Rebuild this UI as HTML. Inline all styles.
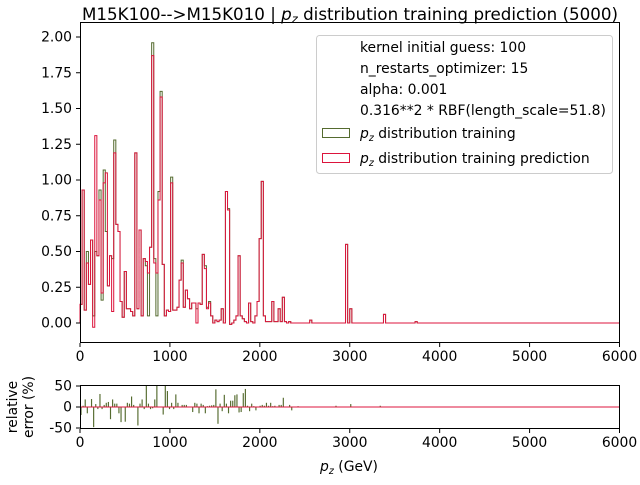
<!DOCTYPE html>
<html><head><meta charset="utf-8"><style>
body{margin:0;background:#fff;}
svg text{font-family:"DejaVu Sans","Liberation Sans",sans-serif;fill:#000;}
</style></head><body>
<svg id="chart" width="640" height="480" xmlns="http://www.w3.org/2000/svg">
<rect width="640" height="480" fill="#fff"/>
<text x="350" y="20" font-size="16.7" text-anchor="middle">M15K100--&gt;M15K010 | <tspan font-style="italic">p</tspan><tspan font-style="italic" font-size="11.5" dy="3">z</tspan><tspan dy="-3"> distribution training prediction (5000)</tspan></text>
<g id="main"></g>
<g id="resid"></g>
<g id="legend">
<rect x="316.5" y="35.5" width="296" height="138" rx="3" fill="#fff" fill-opacity="0.8" stroke="#ccc"/>
<text x="360" y="52" font-size="13.9">kernel initial guess: 100</text>
<text x="360" y="73" font-size="13.9">n_restarts_optimizer: 15</text>
<text x="360" y="94" font-size="13.9">alpha: 0.001</text>
<text x="360" y="115" font-size="13.9">0.316**2 * RBF(length_scale=51.8)</text>
<rect x="322.5" y="128.5" width="27" height="9" fill="none" stroke="#556b2f"/>
<text x="360" y="138" font-size="13.9"><tspan font-style="italic">p</tspan><tspan font-style="italic" font-size="9.5" dy="3">z</tspan><tspan dy="-3"> distribution training</tspan></text>
<rect x="322.5" y="153.5" width="27" height="9" fill="none" stroke="#dc143c"/>
<text x="360" y="163" font-size="13.9"><tspan font-style="italic">p</tspan><tspan font-style="italic" font-size="9.5" dy="3">z</tspan><tspan dy="-3"> distribution training prediction</tspan></text>
</g>
</svg>
<script>
const binWidth = 23.4375;
const trainVals = [0.13,0.93,0.09,0.50,0.27,0.58,0.05,0.50,0.47,0.93,0.16,1.07,0.64,0.26,0.47,0.45,1.28,0.69,0.64,0.15,0.04,0.36,0.10,0.10,0.08,0.05,1.19,0.10,0.65,0.05,0.45,0.40,0.05,0.53,1.96,0.45,0.05,0.92,1.62,0.41,0.05,0.09,0.08,1.02,0.09,0.09,0.11,0.30,0.44,0.11,0.23,0.17,0.10,0.14,0.14,0.10,0.14,0.13,0.48,0.40,0.11,0.15,0.05,0.00,0.02,0.01,0.02,0.10,0.00,0.92,0.80,-0.01,0.00,0.02,0.05,0.47,0.05,0.03,0.01,0.00,0.14,0.01,0.00,0.05,0.15,0.59,0.99,0.05,0.01,0.01,0.01,0.15,0.01,0.01,0.10,0.01,0.18,0.01,0.00,0.01,0,0,0,0,0,0,0,0,0,0.02,0,0,0,0,0,0,0,0,0,0,0,0,0,0,0,0,0.55,0,0.10,0,0,0,0,0,0,0,0,0,0,0,0,0,0,0,0.06,0,0,0,0,0,0,0,0,0,0,0,0,0,0,0.01,0];
const predVals = [0.13,0.93,0.09,0.42,0.27,0.58,-0.03,1.31,0.47,0.86,0.21,0.98,1.05,0.26,0.47,0.08,1.19,0.69,0.64,0.15,0.04,0.36,0.10,0.10,0.08,0.05,1.19,0.10,0.65,0.05,0.45,0.43,0.35,0.53,1.87,0.42,0.35,0.86,1.58,0.41,0.05,0.09,0.08,0.98,0.09,0.09,0.11,0.30,0.42,0.11,0.23,0.17,0.10,0.14,0.14,0.00,0.14,0.13,0.48,0.38,0.10,0.14,0.05,0.00,0.02,0.01,0.02,0.10,0.00,0.92,0.79,-0.01,0.00,0.02,0.05,0.47,0.05,0.03,0.01,0.00,0.14,0.01,0.00,0.05,0.15,0.59,0.99,0.05,0.01,0.01,0.01,0.15,0.01,0.01,0.10,0.01,0.18,0.01,0.00,0.01,0,0,0,0,0,0,0,0,0,0.02,0,0,0,0,0,0,0,0,0,0,0,0,0,0,0,0,0.55,0,0.10,0,0,0,0,0,0,0,0,0,0,0,0,0,0,0,0.06,0,0,0,0,0,0,0,0,0,0,0,0,0,0,0.01,0];
const residBins = [0,1,2,3,5,6,7,8,9,10,11,12,13,14,15,16,17,18,19,21,22,23,24,25,27,28,29,30,31,32,33,34,35,36,39,40,41,42,43,44,45,46,48,49,50,53,54,55,56,57,58,59,60,61,62,63,64,65,66,67,68,69,70,71,72,73,74,75,76,77,78,79,80,81,82,83,85,86,87,88,89,90,91,92,94,95,96,99,100,103,121,128,142];
const residVals = [-19,3,18,-15,19,-48,7,-5,31,-5,5,10,12,-29,18,8,8,-15,-36,-35,10,8,25,5,-44,8,18,-5,55,8,-5,-3,18,55,-18,55,38,-5,10,-5,30,10,5,5,5,-12,10,8,-15,8,5,-15,2,3,4,5,42,-40,8,-10,29,8,-15,15,15,28,30,-13,-12,33,43,3,-10,8,2,-8,3,5,3,10,3,10,2,3,5,5,22,5,-8,2,3,7,3];
const xTicks = [0,1000,2000,3000,4000,5000,6000];
const yTicks = [0,0.25,0.5,0.75,1.0,1.25,1.5,1.75,2.0];
const yTickLabels = ["0.00","0.25","0.50","0.75","1.00","1.25","1.50","1.75","2.00"];
const rTicks = [-50,0,50];

const NS="http://www.w3.org/2000/svg";
const X0=80,X1=619.5;
const xs = v => X0 + (v/6000)*(X1-X0);
const ys = v => 323 - v*143;
const rs = v => 407 - v*0.42;
function mk(parent,tag,attrs){const e=document.createElementNS(NS,tag);for(const k in attrs)e.setAttribute(k,attrs[k]);parent.appendChild(e);return e;}
const main=document.getElementById('main'), resid=document.getElementById('resid');

function stepPath(vals){
  let d='M'+xs(0)+','+ys(0);
  vals.forEach((v,i)=>{d+=' L'+xs(i*binWidth)+','+ys(v)+' L'+xs((i+1)*binWidth)+','+ys(v);});
  d+=' L'+xs(vals.length*binWidth)+','+ys(0)+' L'+xs(6000)+','+ys(0);
  return d;
}
const tp=mk(main,'path',{d:stepPath(trainVals),fill:'none',stroke:'#556b2f','stroke-width':1});


const pp=mk(main,'path',{d:stepPath(predVals),fill:'none',stroke:'#dc143c','stroke-width':1});



const mf=mk(main,'rect',{x:80.5,y:22.5,width:539,height:320,fill:'none',stroke:'#000','stroke-width':1});


yTicks.forEach((t,i)=>{
  const y=ys(t);
  mk(main,'line',{x1:76,x2:80,y1:y,y2:y,stroke:'#000'});
  const tx=mk(main,'text',{x:72,y:y+4.5,'font-size':13.9,'text-anchor':'end'});tx.textContent=yTickLabels[i];
  
  
});
xTicks.forEach(t=>{
  const x=xs(t);
  mk(main,'line',{x1:x,x2:x,y1:343,y2:347,stroke:'#000'});
  const tx=mk(main,'text',{x:x,y:361,'font-size':13.9,'text-anchor':'middle'});tx.textContent=t;
  
  
});

// residual panel
const bw=(X1-X0)*binWidth/6000;
residBins.forEach((b,i)=>{
  const v=Math.max(-52,Math.min(52,residVals[i]));
  const x=xs((b+0.2)*binWidth);
  const r=mk(resid,'rect',{x:x,y:Math.min(rs(0),rs(v)),width:bw*0.55,height:Math.abs(rs(v)-rs(0)),fill:'#556b2f'});
  
  
});
mk(resid,'line',{x1:80,x2:620,y1:rs(0),y2:rs(0),stroke:'#dc143c','stroke-width':1});
const rf=mk(resid,'rect',{x:80.5,y:385.5,width:539,height:43,fill:'none',stroke:'#000'});


rTicks.forEach(t=>{
  const y=rs(t);
  mk(resid,'line',{x1:76,x2:80,y1:y,y2:y,stroke:'#000'});
  const tx=mk(resid,'text',{x:72,y:y+4.5,'font-size':13.9,'text-anchor':'end'});tx.textContent=t;
  
  
});
xTicks.forEach(t=>{
  const x=xs(t);
  mk(resid,'line',{x1:x,x2:x,y1:429,y2:433,stroke:'#000'});
  const tx=mk(resid,'text',{x:x,y:447,'font-size':13.9,'text-anchor':'middle'});tx.textContent=t;
  
  
});
const xl=mk(resid,'text',{x:349,y:471,'font-size':13.9,'text-anchor':'middle'});
xl.innerHTML='<tspan font-style="italic">p</tspan><tspan font-style="italic" font-size="9.5" dy="3">z</tspan><tspan dy="-3"> (GeV)</tspan>';


const yl=mk(resid,'text',{transform:'translate(17,407) rotate(-90)','font-size':13.9,'text-anchor':'middle'});
yl.innerHTML='<tspan x="0" dy="0">relative</tspan><tspan x="0" dy="16">error (%)</tspan>';


</script>
</body></html>
